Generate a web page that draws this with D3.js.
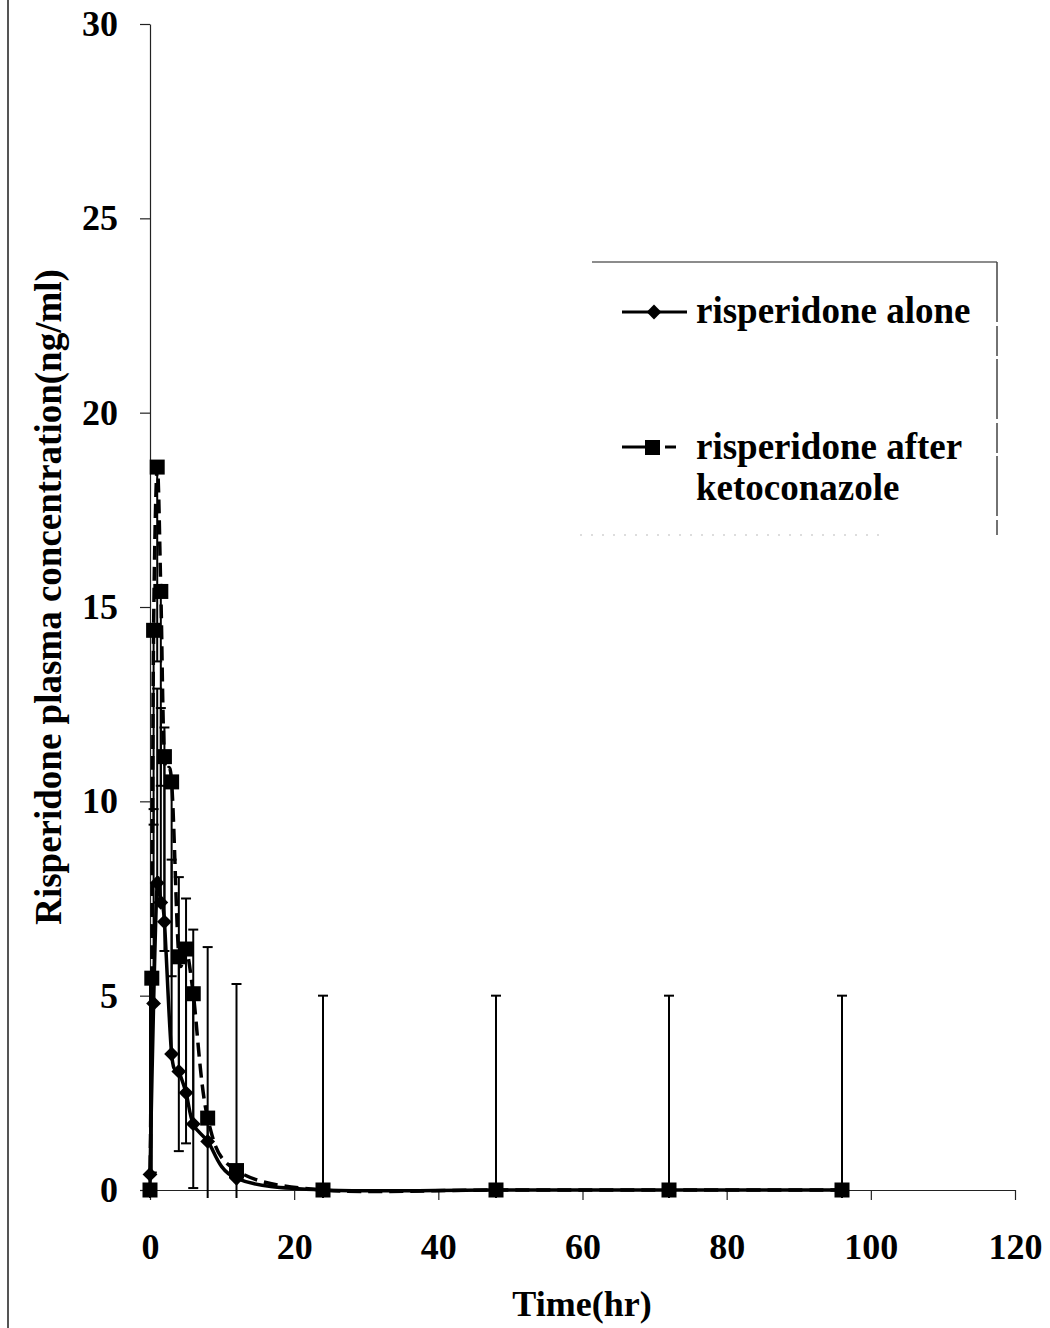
<!DOCTYPE html>
<html>
<head>
<meta charset="utf-8">
<script src="https://cdn.jsdelivr.net/npm/d3@7"></script>
<style>
  body { margin: 0; background: #fff; }
  text { font-family: "Liberation Serif", "Times New Roman", serif; font-weight: bold; fill: #000; }
</style>
</head>
<body>
<div id="chart"></div>
<script>
// risperidone alone (diamonds, solid line, plus error bars)
const timeAlone = [0, 0.5, 1, 1.5, 2, 3, 4, 5, 6, 8, 12, 24, 48, 72, 96];
const concAlone = [0.4, 4.8, 7.9, 7.4, 6.9, 3.5, 3.05, 2.5, 1.7, 1.25, 0.3, 0, 0, 0, 0];
const errAlone = [5, 5, 5, 5, 5, 5, 5, 5, 5, 5, 5, 5, 5, 5, 5];

// risperidone after ketoconazole (squares, dashed line, minus error bars)
const timeKeto = [0, 0.25, 0.5, 1, 1.5, 2, 3, 4, 5, 6, 8, 12, 24, 48, 72, 96];
const concKeto = [0, 5.45, 14.4, 18.6, 15.4, 11.15, 10.5, 6.0, 6.2, 5.05, 1.85, 0.5, 0, 0, 0, 0];
const errKeto = [5, 5, 5, 5, 5, 5, 5, 5, 5, 5, 5, 5, 5, 5, 5, 5];

const xTicks = [0, 20, 40, 60, 80, 100, 120];
const yTicks = [0, 5, 10, 15, 20, 25, 30];

const legendLabels = ['risperidone alone', ['risperidone after', 'ketoconazole']];

const width = 1050, height = 1328;
const margin = {left: 150, right: 35, top: 24, bottom: 138};

const svg = d3.select('#chart').append('svg')
    .attr('width', width)
    .attr('height', height);

const x = d3.scaleLinear().domain([0, 120]).range([margin.left, width - margin.right]);
const y = d3.scaleLinear().domain([0, 30]).range([height - margin.bottom, margin.top]);

// outer frame edge
svg.append('line')
    .attr('x1', 8).attr('x2', 8).attr('y1', 0).attr('y2', height)
    .attr('stroke', '#555').attr('stroke-width', 2);

// axes
const xAxis = svg.append('g')
    .attr('transform', 'translate(0,' + y(0) + ')')
    .call(d3.axisBottom(x).tickValues(xTicks).tickSize(10).tickSizeOuter(0).tickPadding(33));
const yAxis = svg.append('g')
    .attr('transform', 'translate(' + x(0) + ',0)')
    .call(d3.axisLeft(y).tickValues(yTicks).tickSize(10).tickSizeOuter(0).tickPadding(22));

[xAxis, yAxis].forEach(g => {
    g.select('.domain').attr('stroke', '#222').attr('stroke-width', 1.2);
    g.selectAll('.tick line').attr('stroke', '#222').attr('stroke-width', 1.2);
    g.selectAll('.tick text')
        .style('font-size', '36px')
        .style('font-family', '"Liberation Serif", serif')
        .style('font-weight', 'bold')
        .attr('fill', '#000');
});

// axis titles
svg.append('text')
    .attr('x', 582).attr('y', 1316)
    .attr('text-anchor', 'middle')
    .style('font-size', '36px')
    .text('Time(hr)');

svg.append('text')
    .attr('transform', 'translate(61,' + 597 + ') rotate(-90)')
    .attr('text-anchor', 'middle')
    .style('font-size', '37px')
    .text('Risperidone plasma concentration(ng/ml)');

// error bars, clipped at the plot area
svg.append('clipPath').attr('id', 'plotClip')
    .append('rect')
    .attr('x', 0).attr('y', 0)
    .attr('width', width).attr('height', y(0) + 8);

const errG = svg.append('g').attr('clip-path', 'url(#plotClip)');
const capW = 5;

const drawErr = (times, vals, errs, dir) => {
    times.forEach((t, i) => {
        let cx = x(t);
        let y1 = y(vals[i]);
        let y2 = y(vals[i] + dir * errs[i]);
        errG.append('line')
            .attr('x1', cx).attr('x2', cx).attr('y1', y1).attr('y2', y2)
            .attr('stroke', '#000').attr('stroke-width', 2);
        errG.append('line')
            .attr('x1', cx - capW).attr('x2', cx + capW).attr('y1', y2).attr('y2', y2)
            .attr('stroke', '#000').attr('stroke-width', 2);
    });
};
drawErr(timeAlone, concAlone, errAlone, 1);
drawErr(timeKeto, concKeto, errKeto, -1);

// lines
const line = d3.line()
    .x(d => x(d[0]))
    .y(d => y(d[1]))
    .curve(d3.curveCatmullRom.alpha(0));

svg.append('path')
    .datum(d3.zip(timeAlone, concAlone))
    .attr('d', line)
    .attr('fill', 'none')
    .attr('stroke', '#000')
    .attr('stroke-width', 3.5);

svg.append('path')
    .datum(d3.zip(timeKeto, concKeto))
    .attr('d', line)
    .attr('fill', 'none')
    .attr('stroke', '#000')
    .attr('stroke-width', 3.5)
    .attr('stroke-dasharray', '14,7');

// markers
const diamond = d3.symbol().type(d3.symbolDiamond2).size(140);
svg.selectAll('.dia')
    .data(d3.zip(timeAlone, concAlone))
    .enter().append('path')
    .attr('class', 'dia')
    .attr('d', diamond)
    .attr('transform', d => 'translate(' + x(d[0]) + ',' + y(d[1]) + ')')
    .attr('fill', '#000');

const sq = 15;
svg.selectAll('.sq')
    .data(d3.zip(timeKeto, concKeto))
    .enter().append('rect')
    .attr('class', 'sq')
    .attr('x', d => x(d[0]) - sq / 2)
    .attr('y', d => y(d[1]) - sq / 2)
    .attr('width', sq).attr('height', sq)
    .attr('fill', '#000');

// legend
const lg = svg.append('g');
lg.append('line')
    .attr('x1', 592).attr('x2', 997).attr('y1', 262).attr('y2', 262)
    .attr('stroke', '#666').attr('stroke-width', 1.5);
lg.append('line')
    .attr('x1', 997).attr('x2', 997).attr('y1', 262).attr('y2', 535)
    .attr('stroke', '#444').attr('stroke-width', 1.5)
    .attr('stroke-dasharray', '60,4,30,3');
lg.append('line')
    .attr('x1', 580).attr('x2', 880).attr('y1', 535).attr('y2', 535)
    .attr('stroke', '#bbb').attr('stroke-width', 1)
    .attr('stroke-dasharray', '2,9');

lg.append('line')
    .attr('x1', 622).attr('x2', 687).attr('y1', 312).attr('y2', 312)
    .attr('stroke', '#000').attr('stroke-width', 3);
lg.append('path')
    .attr('d', diamond)
    .attr('transform', 'translate(654,312)')
    .attr('fill', '#000');
lg.append('text')
    .attr('x', 696).attr('y', 323)
    .style('font-size', '37px')
    .text(legendLabels[0]);

lg.append('line')
    .attr('x1', 622).attr('x2', 646).attr('y1', 447).attr('y2', 447)
    .attr('stroke', '#000').attr('stroke-width', 3);
lg.append('rect')
    .attr('x', 645).attr('y', 440).attr('width', 15).attr('height', 15)
    .attr('fill', '#000');
lg.append('line')
    .attr('x1', 665).attr('x2', 676).attr('y1', 447).attr('y2', 447)
    .attr('stroke', '#000').attr('stroke-width', 3);
lg.append('text')
    .attr('x', 696).attr('y', 459)
    .style('font-size', '37px')
    .text(legendLabels[1][0]);
lg.append('text')
    .attr('x', 696).attr('y', 500)
    .style('font-size', '37px')
    .text(legendLabels[1][1]);
</script>
</body>
</html>
